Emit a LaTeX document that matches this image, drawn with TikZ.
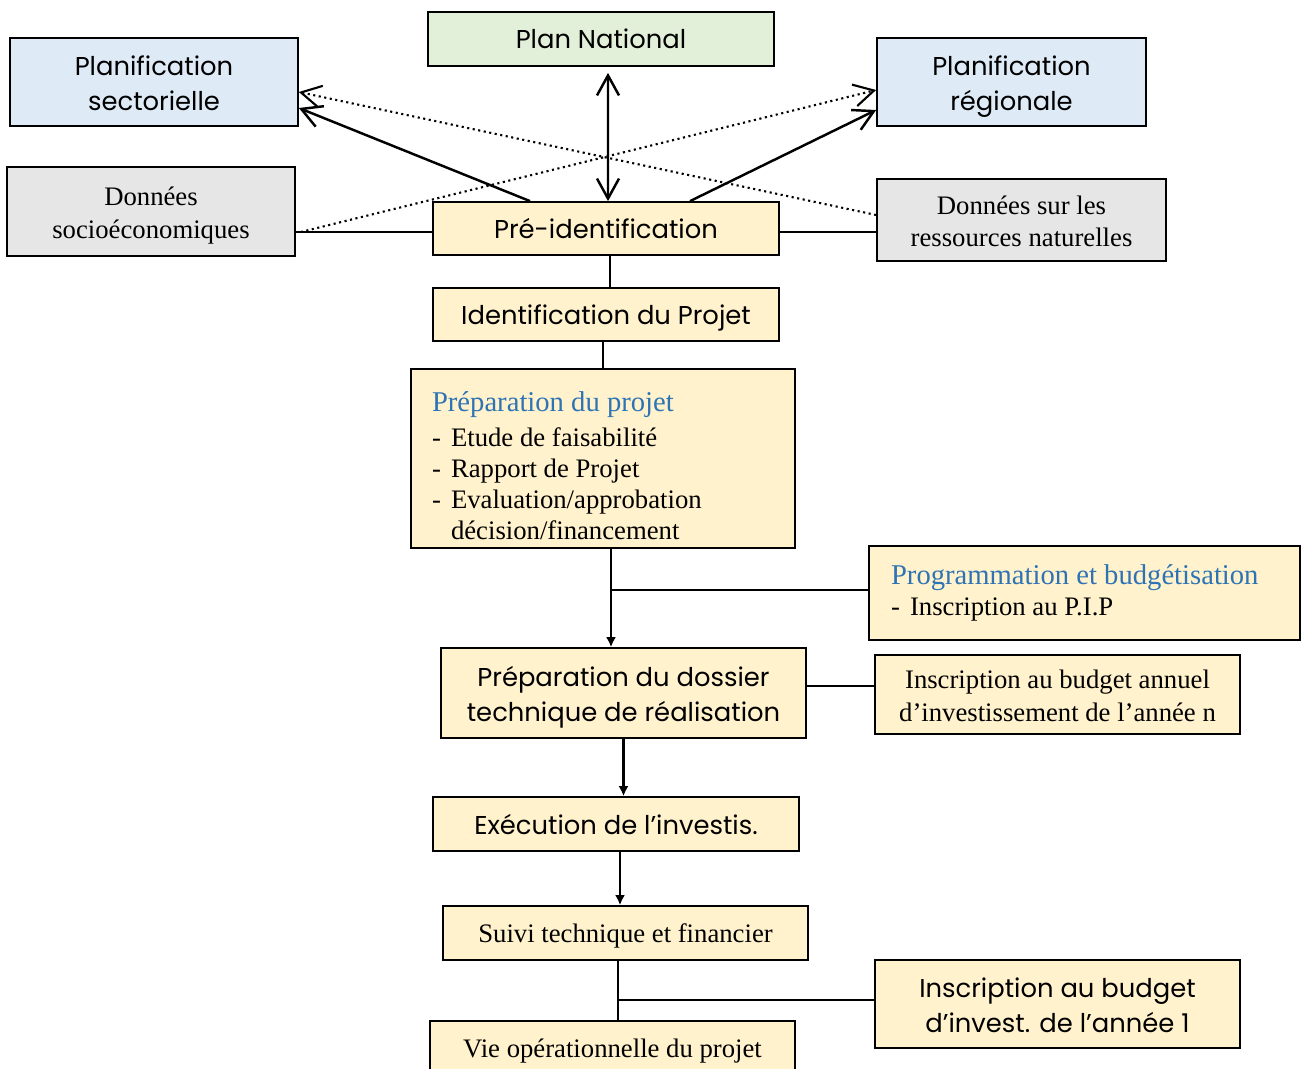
\documentclass[tikz,border=0pt]{standalone}
\usepackage{fontspec}
\setmainfont{Liberation Serif}
\newfontfamily\gothic{Poppins}
\usetikzlibrary{arrows.meta,calc}

\definecolor{bleuclair}{HTML}{DEEBF7}
\definecolor{vertclair}{HTML}{E2F0D9}
\definecolor{grisclair}{HTML}{E7E6E6}
\definecolor{jaune}{HTML}{FFF2CC}
\definecolor{titrebleu}{HTML}{2E74B5}

% une ligne de liste avec tiret
\newcommand{\tiret}[1]{\par\makebox[0.38cm][l]{-}#1}
\newcommand{\suite}[1]{\par\hspace*{0.38cm}#1}
\newcommand{\titre}[1]{{\color{titrebleu}\fontsize{16.3}{17.8}\selectfont#1}}
% texte sur deux lignes
\newcommand{\deux}[2]{\vrule height .7\baselineskip width 0pt\smash{#1}\\\smash{#2}\vrule depth .06\baselineskip width 0pt}

\begin{document}
\begin{tikzpicture}[x=0.02cm,y=-0.02cm,
  box/.style={draw,line width=1pt,inner sep=0pt,align=center},
  une/.style={text depth=0pt},
  sans/.style={font=\gothic\fontsize{14.7}{19.5}\selectfont},
  serif/.style={font=\fontsize{15.2}{18.7}\selectfont},
  liste/.style={align=flush left,font=\fontsize{15.2}{17.8}\selectfont},
  fleche/.style={-{Straight Barb[length=4mm,width=4.4mm]},line width=1.4pt},
  petite/.style={-{Latex[length=2mm,width=2mm]},line width=1.3pt},
  trait/.style={line width=1.3pt}]

  \useasboundingbox (0,0) rectangle (1301,1068);

  \node[box,sans,une,fill=vertclair,minimum width=6.92cm,minimum height=1.08cm] (plannat) at (601,39) {Plan National};
  \node[box,sans,fill=bleuclair,minimum width=5.76cm,minimum height=1.76cm] (plansect) at (154,82) {\deux{Planification}{sectorielle}};
  \node[box,sans,fill=bleuclair,minimum width=5.38cm,minimum height=1.76cm] (planreg) at (1011.5,82) {\deux{Planification}{régionale}};
  \node[box,serif,fill=grisclair,minimum width=5.76cm,minimum height=1.78cm] (donsoc) at (151,211.5) {\deux{Données}{socioéconomiques}};
  \node[box,sans,une,fill=jaune,minimum width=6.92cm,minimum height=1.06cm] (preid) at (606,228.5) {Pré-identification};
  \node[box,serif,fill=grisclair,minimum width=5.78cm,minimum height=1.64cm] (donres) at (1021.5,220) {\deux{Données sur les}{ressources naturelles}};
  \node[box,sans,une,fill=jaune,minimum width=6.92cm,minimum height=1.06cm] (idprojet) at (606,314.5) {Identification du Projet};
  \node[box,liste,fill=jaune,minimum width=7.68cm,minimum height=3.58cm,text width=6.84cm] (prepprojet) at (603,458.5)
    {\vrule height 20pt width 0pt\titre{Préparation du projet}\vspace{1.7pt}\tiret{Etude de faisabilité}\tiret{Rapport de Projet}\tiret{Evaluation/approbation}\suite{décision/financement}};
  \node[box,liste,fill=jaune,minimum width=8.62cm,minimum height=1.88cm,text width=7.74cm] (progbud) at (1084.5,593)
    {\titre{Programmation et budgétisation}\tiret{Inscription au P.I.P}};
  \node[box,sans,fill=jaune,minimum width=7.30cm,minimum height=1.80cm] (prepdossier) at (623.5,693) {\deux{Préparation du dossier}{technique de réalisation}};
  \node[box,serif,fill=jaune,minimum width=7.30cm,minimum height=1.58cm] (budgetn) at (1057.5,694.5) {\deux{Inscription au budget annuel}{d’investissement de l’année n}};
  \node[box,sans,une,fill=jaune,minimum width=7.32cm,minimum height=1.08cm] (execution) at (616,824) {Exécution de l’investis.};
  \node[box,serif,une,fill=jaune,minimum width=7.30cm,minimum height=1.08cm] (suivi) at (625.5,933) {Suivi technique et financier};
  \node[box,sans,fill=jaune,minimum width=7.30cm,minimum height=1.76cm] (budgetun) at (1057.5,1004) {\deux{Inscription au budget}{d’invest. de l’année 1}};
  \node[box,serif,une,fill=jaune,minimum width=7.30cm,minimum height=1.10cm] (vie) at (612.5,1048.5) {Vie opérationnelle du projet};

  % fleches vers les planifications
  \draw[fleche] ([xshift=-1.52cm]preid.north) -- ([yshift=-0.52cm]plansect.east);
  \draw[fleche] ([xshift=1.68cm]preid.north) -- ([yshift=-0.56cm]planreg.west);
  \draw[fleche,{Straight Barb[length=4mm,width=4.4mm]}-{Straight Barb[length=4mm,width=4.4mm]}] ([xshift=0.04cm]preid.north) -- ([xshift=0.14cm,yshift=-0.12cm]plannat.south);
  \draw[fleche,line width=1.2pt,dotted] ([xshift=0.1cm,yshift=-0.41cm]donsoc.east) -- ([yshift=-0.16cm]planreg.west);
  \draw[fleche,line width=1.2pt,dotted] ([yshift=0.1cm]donres.west) -- ([yshift=-0.2cm]plansect.east);

  % donnees -- pre-identification
  \coordinate (g) at ([yshift=-0.07cm]preid.west);
  \coordinate (d) at ([yshift=-0.07cm]preid.east);
  \draw[line width=1pt] (g) -- (g -| donsoc.east);
  \draw[line width=1pt] (d) -- (d -| donres.west);

  % chaine principale
  \draw[trait] ([xshift=0.08cm]preid.south) -- ([xshift=0.08cm]preid.south |- idprojet.north);
  \draw[trait] (prepprojet.north) -- (prepprojet.north |- idprojet.south);
  \coordinate (a) at ([xshift=0.16cm]prepprojet.south);
  \draw[petite] (a) -- (a |- prepdossier.north);
  \draw[trait] ([yshift=0.06cm]progbud.west) -- ([yshift=0.06cm]progbud.west -| a);
  \draw[trait] ([yshift=0.14cm]prepdossier.east) -- ([yshift=0.14cm]prepdossier.east -| budgetn.west);
  \draw[petite] (prepdossier.south) -- (prepdossier.south |- execution.north);
  \draw[petite] ([xshift=0.08cm]execution.south) -- ([xshift=0.08cm]execution.south |- suivi.north);
  \coordinate (b) at ([xshift=-0.15cm]suivi.south);
  \draw[trait] (b) -- (b |- vie.north);
  \draw[trait] ([yshift=0.08cm]budgetun.west) -- ([yshift=0.08cm]budgetun.west -| b);

\end{tikzpicture}
\end{document}
